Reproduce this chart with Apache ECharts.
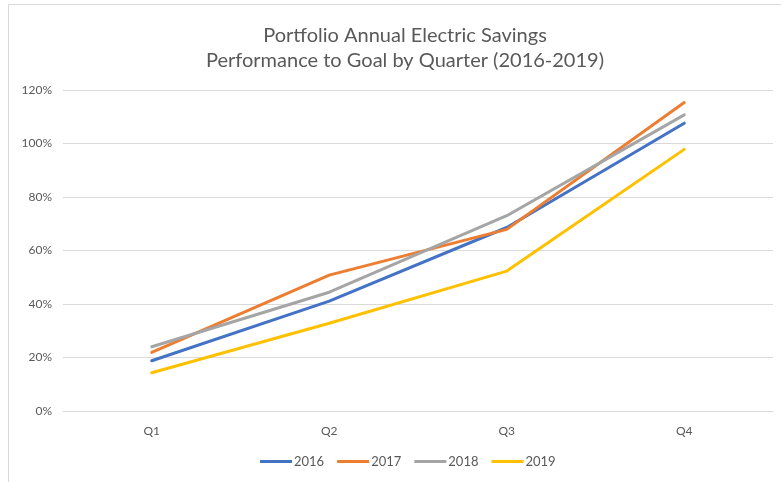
<!DOCTYPE html>
<html>
<head>
<meta charset="utf-8">
<script src="https://cdn.jsdelivr.net/npm/echarts@6/dist/echarts.min.js"></script>
<style>
  html, body { margin: 0; padding: 0; background: #fff; }
  #chart { width: 781px; height: 482px; }
</style>
</head>
<body>
<div id="chart"></div>
<script>
// quarters on the x axis
const quarters = ["Q1", "Q2", "Q3", "Q4"];

// performance to goal, percent
const y2016 = [18.8, 41.1, 68.6, 107.6];
const y2017 = [21.9, 50.8, 67.9, 115.3];
const y2018 = [24.0, 44.4, 73.0, 110.7];
const y2019 = [14.3, 32.8, 52.3, 97.8];

const colorList = ["#4472C4", "#ED7D31", "#A5A5A5", "#FFC000"];
const textColor = "#595959";
const fontFamily = "Lato, 'Liberation Sans', sans-serif";

const chart = echarts.init(document.getElementById("chart"));

function makeSeries(name, data, idx) {
  return {
    name: name,
    type: "line",
    data: data,
    symbol: "none",
    smooth: false,
    lineStyle: { width: 3, color: colorList[idx], cap: "round" },
    itemStyle: { color: colorList[idx] },
  };
}

chart.setOption({
  backgroundColor: "#fff",
  animation: false,
  textStyle: { fontFamily: fontFamily },
  graphic: [
    {
      // outer chart frame
      type: "rect",
      shape: { x: 8.5, y: 4.5, width: 800, height: 500 },
      style: { fill: "none", stroke: "#d9d9d9", lineWidth: 1 },
      silent: true,
    },
  ],
  title: {
    text: "Portfolio Annual Electric Savings\nPerformance to Goal by Quarter (2016-2019)",
    left: 400,
    textAlign: "center",
    top: 18,
    textStyle: {
      fontFamily: fontFamily,
      fontSize: 20,
      fontWeight: "normal",
      color: textColor,
      lineHeight: 25,
    },
  },
  legend: {
    bottom: 9,
    left: 255,
    icon: "rect",
    itemWidth: 32,
    itemHeight: 3,
    itemGap: 13,
    textStyle: { color: textColor, fontSize: 13, fontFamily: fontFamily, padding: [0, 0, 0, -3] },
    data: ["2016", "2017", "2018", "2019"],
  },
  grid: {
    left: 63,
    right: 8,
    top: 90,
    bottom: 71,
    containLabel: false,
  },
  xAxis: {
    type: "category",
    data: quarters,
    boundaryGap: true,
    axisLine: { show: true, lineStyle: { color: "#d9d9d9", width: 1 } },
    axisTick: { show: false },
    axisLabel: { color: textColor, fontSize: 12, margin: 14 },
  },
  yAxis: {
    type: "value",
    min: 0,
    max: 120,
    interval: 20,
    axisLine: { show: false },
    axisTick: { show: false },
    axisLabel: { color: textColor, fontSize: 12, margin: 11, formatter: "{value}%" },
    splitLine: { lineStyle: { color: "#d9d9d9", width: 1 } },
  },
  series: [
    makeSeries("2016", y2016, 0),
    makeSeries("2017", y2017, 1),
    makeSeries("2018", y2018, 2),
    makeSeries("2019", y2019, 3),
  ],
});
</script>
</body>
</html>
